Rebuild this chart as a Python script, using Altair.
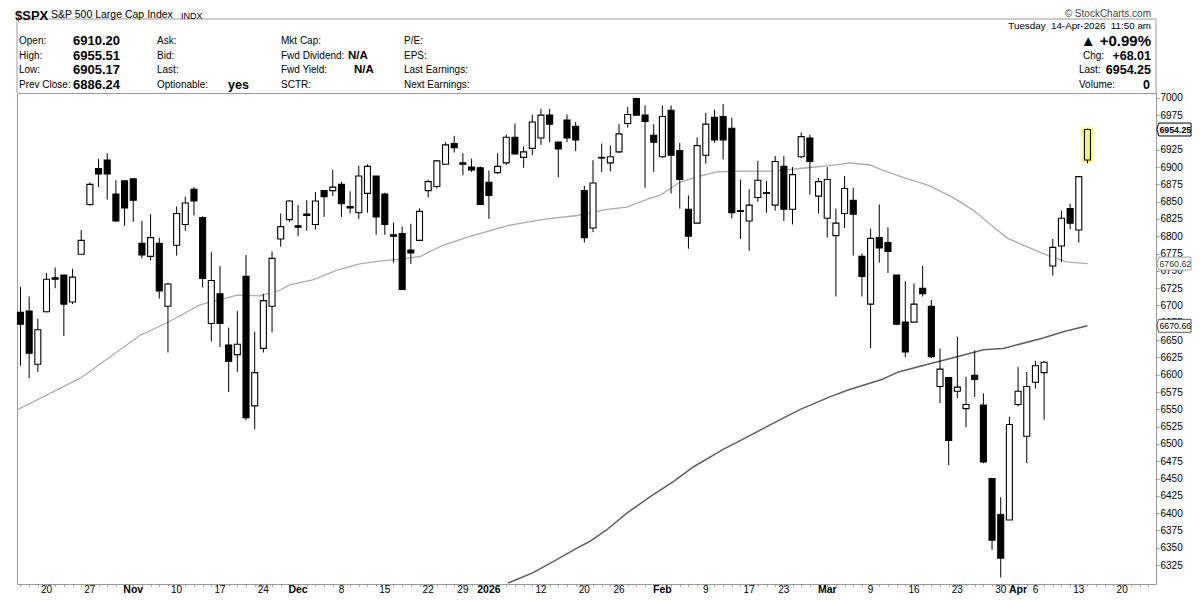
import altair as alt
import pandas as pd

FONT = "Liberation Sans, Arial, Helvetica, sans-serif"

# ---------------- data ----------------
# trading-day index: 0 = Mon 20-Oct-2025 ... 120 = Tue 14-Apr-2026
day = list(range(-3, 121))
opens = [6690, 6692, 6615, 6691, 6740, 6744, 6705, 6774, 6846, 6898,
         6910, 6861, 6880, 6883, 6790, 6771, 6790, 6699, 6787, 6817,
         6868, 6827, 6674, 6717, 6643, 6629, 6742, 6555, 6638, 6699,
         6796, 6824, 6815, 6832, 6817, 6866, 6866, 6875, 6843, 6834,
         6862, 6887, 6861, 6802, 6804, 6780, 6794, 6866, 6872, 6904,
         6934, 6906, 6900, 6899, 6878, 6892, 6906, 6943, 6914, 6927,
         6942, 6975, 6936, 6968, 6959, 6866, 6812, 6914, 6906, 6922,
         6963, 6999, 6975, 6946, 6915, 6982, 6924, 6839, 6819, 6917,
         6972, 6973, 6956, 6837, 6822, 6856, 6863, 6845, 6901, 6839,
         6915, 6942, 6858, 6826, 6801, 6833, 6852, 6771, 6702, 6798,
         6791, 6744, 6676, 6676, 6725, 6699, 6583, 6596, 6576, 6551,
         6599, 6556, 6450, 6398, 6390, 6557, 6511, 6589, 6603, 6757,
         6786, 6840, 6809, 6910.20]
highs = [6727, 6713, 6681, 6747, 6755, 6744, 6753, 6809, 6878, 6912,
         6920, 6881, 6880, 6883, 6822, 6832, 6798, 6733, 6843, 6857,
         6871, 6829, 6777, 6757, 6668, 6692, 6773, 6662, 6717, 6778,
         6833, 6852, 6845, 6852, 6864, 6866, 6896, 6879, 6865, 6902,
         6904, 6887, 6863, 6820, 6814, 6818, 6840, 6882, 6910, 6936,
         6945, 6920, 6912, 6901, 6895, 6920, 6947, 6963, 6930, 6976,
         6984, 6984, 6936, 6976, 6965, 6873, 6910, 6934, 6931, 6962,
         6987, 7000, 6989, 6962, 6989, 6989, 6935, 6859, 6943, 6978,
         6983, 6991, 6971, 6882, 6868, 6909, 6880, 6916, 6916, 6900,
         6950, 6947, 6884, 6900, 6840, 6887, 6870, 6775, 6811, 6846,
         6813, 6744, 6735, 6732, 6757, 6708, 6638, 6596, 6655, 6597,
         6635, 6573, 6450, 6423, 6539, 6611, 6604, 6620, 6620, 6796,
         6837, 6847, 6886.24, 6955.51]
lows = [6613, 6595, 6604, 6690, 6725, 6656, 6702, 6774, 6844, 6871,
        6853, 6821, 6815, 6821, 6768, 6765, 6710, 6632, 6772, 6808,
        6830, 6726, 6648, 6640, 6575, 6604, 6534, 6521, 6632, 6661,
        6785, 6821, 6800, 6808, 6810, 6828, 6858, 6828, 6833, 6825,
        6834, 6802, 6802, 6762, 6722, 6760, 6793, 6856, 6869, 6904,
        6921, 6888, 6893, 6846, 6825, 6890, 6903, 6918, 6899, 6917,
        6932, 6936, 6885, 6936, 6923, 6791, 6806, 6893, 6894, 6920,
        6957, 6975, 6870, 6893, 6913, 6862, 6840, 6782, 6819, 6905,
        6935, 6911, 6826, 6796, 6779, 6850, 6834, 6837, 6822, 6817,
        6913, 6860, 6833, 6798, 6713, 6812, 6772, 6713, 6638, 6762,
        6747, 6672, 6625, 6676, 6713, 6624, 6559, 6469, 6566, 6524,
        6568, 6472, 6347, 6307, 6390, 6554, 6472, 6580, 6535, 6743,
        6763, 6810, 6791, 6905.17]
closes = [6673, 6631, 6665, 6738, 6738, 6702, 6741, 6794, 6875, 6890,
          6890, 6822, 6841, 6852, 6773, 6798, 6721, 6731, 6833, 6848,
          6851, 6739, 6736, 6674, 6619, 6644, 6538, 6603, 6707, 6768,
          6814, 6851, 6813, 6830, 6851, 6857, 6871, 6847, 6841, 6887,
          6901, 6828, 6817, 6800, 6723, 6776, 6836, 6879, 6909, 6932,
          6928, 6904, 6896, 6846, 6859, 6901, 6943, 6919, 6922, 6965,
          6975, 6962, 6926, 6942, 6939, 6798, 6877, 6913, 6915, 6948,
          6976, 6975, 6966, 6936, 6973, 6917, 6882, 6800, 6931, 6962,
          6939, 6939, 6834, 6836, 6845, 6881, 6862, 6908, 6839, 6889,
          6944, 6908, 6879, 6882, 6819, 6869, 6832, 6742, 6797, 6783,
          6778, 6673, 6633, 6702, 6717, 6626, 6608, 6505, 6582, 6557,
          6593, 6474, 6361, 6335, 6528, 6576, 6583, 6613, 6618, 6784,
          6826, 6819, 6886.24, 6954.25]

ma50_day = [-3.4, 3.9, 10.8, 13.9, 17.7, 22.0, 24.6, 26.9, 28.1, 30.7, 33.5, 36.1,
            38.4, 40.8, 43.1, 45.7, 48.8, 53.4, 57.7, 61.2, 64.6, 66.9, 69.6, 70.7,
            73.0, 75.0, 77.3, 79.9, 83.8, 87.7, 90.3, 92.6, 94.9, 96.3, 99.0, 101.6,
            104.2, 105.3, 107.0, 109.1, 110.8, 113.4, 115.7, 117.6, 120]
ma50_val = [6549, 6595, 6657, 6675, 6701, 6715, 6714, 6722, 6730, 6737, 6751, 6760,
            6764, 6767, 6771, 6787, 6800, 6816, 6825, 6830, 6839, 6842, 6855, 6859,
            6878, 6886, 6893, 6894, 6894, 6899, 6902, 6906, 6903, 6896, 6884, 6874,
            6858, 6850, 6836, 6814, 6797, 6783, 6771, 6763, 6760.62]
ma200_day = [53.2, 54.2, 56.1, 58.4, 61.1, 62.6, 64.6, 66.9, 69.6, 72.3, 74.6, 78.0,
             80.3, 83.8, 86.9, 90.3, 92.4, 96.3, 98.2, 101.6, 105.3, 108.0, 110.3,
             114.9, 117.2, 120]
ma200_val = [6299, 6304, 6314, 6330, 6349, 6359, 6376, 6400, 6424, 6446, 6467, 6492,
             6507, 6530, 6550, 6568, 6578, 6593, 6604, 6615, 6627, 6636, 6638,
             6653, 6662, 6670.66]

week_tick_day = [0, 5, 15, 20, 25, 34, 39, 44, 48, 57, 62, 66, 76, 81, 85, 95,
                 100, 105, 110, 114, 119, 124]
week_tick_text = ["20", "27", "10", "17", "24", "8", "15", "22", "29", "12", "20",
                  "26", "9", "17", "23", "9", "16", "23", "30", "6", "13", "20"]
month_tick_day = [10, 29, 51, 71, 90, 112]
month_tick_text = ["Nov", "Dec", "2026", "Feb", "Mar", "Apr"]
price_ticks = [6325, 6350, 6375, 6400, 6425, 6450, 6475, 6500, 6525, 6550, 6575,
               6600, 6625, 6650, 6675, 6700, 6725, 6750, 6775, 6800, 6825, 6850,
               6875, 6900, 6925, 6975, 7000]

# ---------------- scales / axes ----------------
W, H = 1139, 491
xs = alt.Scale(domain=[-3.4, 127.9], nice=False, zero=False, padding=0)
ys = alt.Scale(domain=[6297.6, 7007], nice=False, zero=False, padding=0)
xaxis = alt.Axis(values=list(range(-3, 128)), labels=False, ticks=True, tickSize=2,
                 tickColor="#999999", domain=False, grid=False, title=None)
yaxis = alt.Axis(orient="right", values=price_ticks, format="d", labelFont=FONT,
                 labelFontSize=10, labelColor="#000000", tickSize=3, tickColor="#999999",
                 domain=False, grid=False, title=None, labelPadding=1, labelOverlap=False)


def X(f):
    return alt.X(f, type="quantitative", scale=xs, axis=xaxis)


def Y(f):
    return alt.Y(f, type="quantitative", scale=ys, axis=yaxis)


candles = pd.DataFrame({"day": day, "open": opens, "high": highs, "low": lows, "close": closes})
ma50 = pd.DataFrame({"day": ma50_day, "v": ma50_val})
ma200 = pd.DataFrame({"day": ma200_day, "v": ma200_val})
one = pd.DataFrame({"k": [0]})

layers = []
layers.append(alt.Chart(ma50).mark_line(color="#ababab", strokeWidth=1.3, clip=True)
              .encode(x=X("day"), y=Y("v")))
layers.append(alt.Chart(ma200).mark_line(color="#5e5e5e", strokeWidth=1.5, clip=True)
              .encode(x=X("day"), y=Y("v")))
# yellow highlight of today's candle
layers.append(alt.Chart(candles).transform_filter("datum.day == 120")
              .mark_bar(size=8, fill="#ffff66", stroke="#ffff66", strokeWidth=4)
              .encode(x=X("day"), y=Y("open"), y2=alt.Y2("close")))
layers.append(alt.Chart(candles).mark_rule(color="black", strokeWidth=1)
              .encode(x=X("day"), y=Y("low"), y2=alt.Y2("high")))
layers.append(alt.Chart(candles).transform_filter("datum.day < 120")
              .mark_bar(size=6, stroke="black", strokeWidth=1.1)
              .encode(x=X("day"), y=Y("open"), y2=alt.Y2("close"),
                      fill=alt.condition("datum.close >= datum.open",
                                         alt.value("white"), alt.value("black"))))
layers.append(alt.Chart(candles).transform_filter("datum.day == 120")
              .mark_bar(size=6, stroke="black", strokeWidth=1.1, fill="#f3f37a")
              .encode(x=X("day"), y=Y("open"), y2=alt.Y2("close")))

# x axis labels
wk = pd.DataFrame({"day": week_tick_day, "lab": week_tick_text})
mo = pd.DataFrame({"day": month_tick_day, "lab": month_tick_text})
layers.append(alt.Chart(wk).mark_text(font=FONT, fontSize=10, align="center", baseline="middle",
                                      color="black")
              .encode(x=X("day"), y=alt.value(497), text="lab:N"))
layers.append(alt.Chart(mo).mark_text(font=FONT, fontSize=10.5, fontWeight="bold", align="center",
                                      baseline="middle", color="black")
              .encode(x=X("day"), y=alt.value(497), text="lab:N"))

# right-hand value flags
FLAG = "M-1,0L-0.9,-0.38L1,-0.38L1,0.38L-0.9,0.38Z"
flags = [(closes[-1], "#000000", "#000000", "bold"),
         (ma50_val[-1], "#a0a0a0", "#333333", "normal"),
         (ma200_val[-1], "#555555", "#000000", "normal")]
for val, stroke, tcol, weight in flags:
    fd = pd.DataFrame({"v": [val], "t": [f"{val:.2f}"]})
    layers.append(alt.Chart(fd).mark_point(shape=FLAG, size=1156, filled=True, fill="white",
                                           stroke=stroke, strokeWidth=1, opacity=1)
                  .encode(x=alt.value(1157), y=Y("v")))
    layers.append(alt.Chart(fd).mark_text(font=FONT, fontSize=8.8, fontWeight=weight, color=tcol,
                                          align="center", baseline="middle")
                  .encode(x=alt.value(1158.3), y=Y("v"), text="t:N"))

# header box lines
layers.append(alt.Chart(one).mark_rule(color="#9a9a9a", strokeWidth=1)
              .encode(x=alt.value(0), x2=alt.value(W), y=alt.value(-74)))
layers.append(alt.Chart(one).mark_rule(color="#9a9a9a", strokeWidth=1)
              .encode(x=alt.value(0), y=alt.value(-74), y2=alt.value(0)))
layers.append(alt.Chart(one).mark_rule(color="#9a9a9a", strokeWidth=1)
              .encode(x=alt.value(W), y=alt.value(-74), y2=alt.value(0)))


def txt(text, x, y, size=10, bold=False, align="left", color="black"):
    return (alt.Chart(one)
            .mark_text(text=text, font=FONT, fontSize=size,
                       fontWeight="bold" if bold else "normal",
                       align=align, baseline="middle", color=color)
            .encode(x=alt.value(x), y=alt.value(y)))


rows = [-52, -37.5, -23, -8.5]
col1 = ["Open:", "High:", "Low:", "Prev Close:"]
col1v = ["6910.20", "6955.51", "6905.17", "6886.24"]
col2 = ["Ask:", "Bid:", "Last:", "Optionable:"]
col3 = ["Mkt Cap:", "Fwd Dividend:", "Fwd Yield:", "SCTR:"]
col4 = ["P/E:", "EPS:", "Last Earnings:", "Next Earnings:"]
for i, ry in enumerate(rows):
    layers.append(txt(col1[i], 2, ry))
    layers.append(txt(col1v[i], 56, ry, size=13, bold=True))
    layers.append(txt(col2[i], 140, ry))
    layers.append(txt(col3[i], 264, ry))
    layers.append(txt(col4[i], 387, ry))
layers.append(txt("yes", 211, rows[3], size=12.5, bold=True))
layers.append(txt("N/A", 331, rows[1], size=11.5, bold=True))
layers.append(txt("N/A", 337, rows[2], size=11.5, bold=True))

layers.append(txt("$SPX", -2, -77.5, size=13, bold=True))
layers.append(txt("S&P 500 Large Cap Index", 34, -78, size=10.5))
layers.append(txt("INDX", 164, -77.5, size=9))
layers.append(txt("\u00a9 StockCharts.com", 1134, -79, size=10, align="right", color="#444444"))

layers.append(txt("Tuesday\u00a0\u00a014-Apr-2026\u00a0\u00a011:50 am", 1134, -67, size=9.8, align="right"))
layers.append(txt("\u25b2 +0.99%", 1134, -52, size=15, bold=True, align="right"))
layers.append(txt("Chg:", 1066, rows[1]))
layers.append(txt("+68.01", 1134, rows[1], size=12.5, bold=True, align="right"))
layers.append(txt("Last:", 1062, rows[2]))
layers.append(txt("6954.25", 1134, rows[2], size=12.5, bold=True, align="right"))
layers.append(txt("Volume:", 1062, rows[3]))
layers.append(txt("0", 1133, rows[3], size=12.5, bold=True, align="right"))

chart = (alt.layer(*layers)
         .properties(width=W, height=H, background="white",
                     padding={"left": 9, "top": 85, "right": 36, "bottom": 12},
                     autosize=alt.AutoSizeParams(type="none"))
         .configure_view(stroke="#9a9a9a", strokeWidth=1))

chart.save("out.html", embed_options={"renderer": "svg", "actions": False})
